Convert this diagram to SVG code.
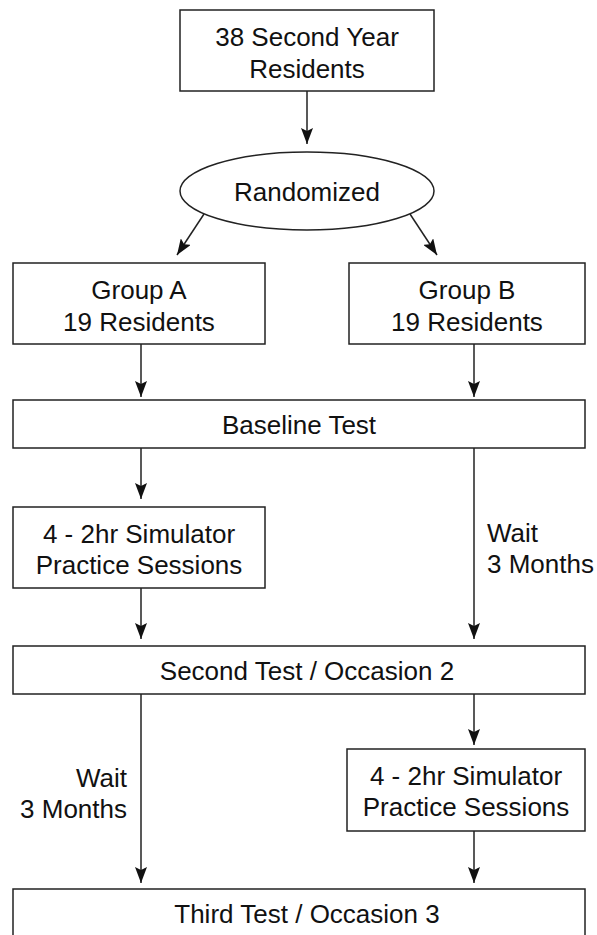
<svg xmlns="http://www.w3.org/2000/svg" width="597" height="935" viewBox="0 0 597 935">
<style>
.box{fill:#fff;stroke:#222;stroke-width:1.5}
.t{font-family:"Liberation Sans",Arial,sans-serif;font-size:26px;fill:#111}
.c{text-anchor:middle}
.e{text-anchor:end}
.ln{stroke:#222;stroke-width:1.5;fill:none;marker-end:url(#ah)}
</style>
<defs>
<marker id="ah" viewBox="0 0 16 12" refX="16" refY="6" markerWidth="16" markerHeight="12" markerUnits="userSpaceOnUse" orient="auto">
<path d="M0,0 L16,6 L0,12 L3,6 Z" fill="#111"/>
</marker>
</defs>
<rect width="597" height="935" fill="#fff"/>
<g id="connectors">
<line class="ln" x1="307" y1="91" x2="307" y2="144"/>
<line class="ln" x1="204" y1="214" x2="177" y2="255"/>
<line class="ln" x1="410" y1="214" x2="437" y2="255"/>
<line class="ln" x1="141" y1="344" x2="141" y2="397"/>
<line class="ln" x1="474" y1="344" x2="474" y2="397"/>
<line class="ln" x1="141" y1="448" x2="141" y2="499"/>
<line class="ln" x1="474" y1="448" x2="474" y2="639"/>
<line class="ln" x1="141" y1="588" x2="141" y2="639"/>
<line class="ln" x1="141" y1="694" x2="141" y2="883"/>
<line class="ln" x1="474" y1="694" x2="474" y2="745"/>
<line class="ln" x1="474" y1="831" x2="474" y2="883"/>
</g>
<g id="labels">
<text class="t" x="487" y="542">Wait</text>
<text class="t" x="487" y="573">3 Months</text>
<text class="t e" x="127" y="787">Wait</text>
<text class="t e" x="127" y="818">3 Months</text>
</g>
<g id="n-residents">
<rect class="box" x="180" y="10" width="254" height="81"/>
<text class="t c" x="307" y="46">38 Second Year</text>
<text class="t c" x="307" y="78">Residents</text>
</g>
<g id="n-randomized">
<ellipse class="box" cx="307" cy="191" rx="127" ry="39"/>
<text class="t c" x="307" y="201">Randomized</text>
</g>
<g id="n-groupA">
<rect class="box" x="13" y="263" width="252" height="81"/>
<text class="t c" x="139" y="299">Group A</text>
<text class="t c" x="139" y="331">19 Residents</text>
</g>
<g id="n-groupB">
<rect class="box" x="349" y="263" width="236" height="81"/>
<text class="t c" x="467" y="299">Group B</text>
<text class="t c" x="467" y="331">19 Residents</text>
</g>
<g id="n-baseline">
<rect class="box" x="13" y="400" width="572" height="48"/>
<text class="t c" x="299" y="434">Baseline Test</text>
</g>
<g id="n-simA">
<rect class="box" x="13" y="507" width="252" height="81"/>
<text class="t c" x="139" y="543">4 - 2hr Simulator</text>
<text class="t c" x="139" y="574">Practice Sessions</text>
</g>
<g id="n-second">
<rect class="box" x="13" y="646" width="572" height="48"/>
<text class="t c" x="307" y="680">Second Test / Occasion 2</text>
</g>
<g id="n-simB">
<rect class="box" x="347" y="749" width="238" height="82"/>
<text class="t c" x="466" y="785">4 - 2hr Simulator</text>
<text class="t c" x="466" y="816">Practice Sessions</text>
</g>
<g id="n-third">
<rect class="box" x="13" y="889" width="572" height="50"/>
<text class="t c" x="307" y="923">Third Test / Occasion 3</text>
</g>
</svg>
